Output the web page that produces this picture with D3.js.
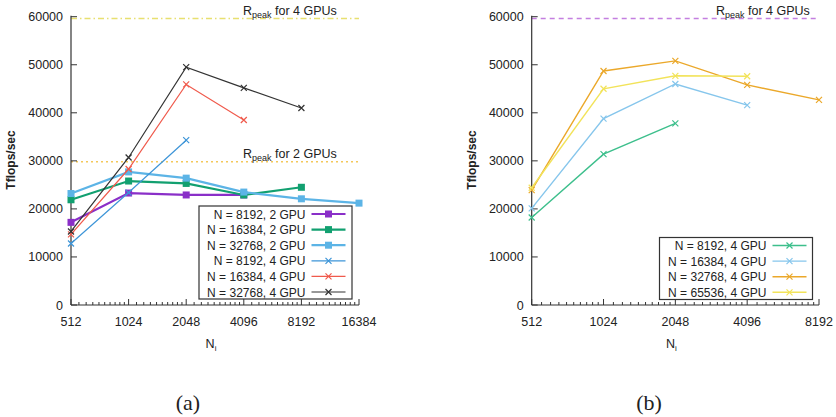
<!doctype html>
<html lang="en">
<head>
  <meta charset="utf-8">
  <script src="https://d3js.org/d3.v7.min.js"></script>
  <style>
    body { margin: 0; background: #fff; }
    text { font-family: "Liberation Sans", Arial, sans-serif; fill: #222; }
  </style>
</head>
<body>
  <script>
    // ---- data: panel (a) ----
    var nis = [512, 1024, 2048, 4096, 8192, 16384];
    var aTicks = [512, 1024, 2048, 4096, 8192, 16384];
    var a8192_2gpu  = [17200, 23300, 22900, 22900];
    var a16384_2gpu = [21900, 25800, 25300, 22900, 24500];
    var a32768_2gpu = [23200, 27700, 26400, 23500, 22100, 21200];
    var a8192_4gpu  = [12800, 23400, 34300];
    var a16384_4gpu = [14700, 28300, 45900, 38500];
    var a32768_4gpu = [15300, 30700, 49500, 45200, 41000];
    var aLabels = ["N = 8192, 2 GPU", "N = 16384, 2 GPU", "N = 32768, 2 GPU",
                   "N = 8192, 4 GPU", "N = 16384, 4 GPU", "N = 32768, 4 GPU"];

    // ---- data: panel (b) ----
    var bTicks = [512, 1024, 2048, 4096, 8192];
    var b8192_4gpu  = [18200, 31400, 37800];
    var b16384_4gpu = [20100, 38800, 46000, 41600];
    var b32768_4gpu = [23900, 48700, 50800, 45800, 42700];
    var b65536_4gpu = [24400, 45000, 47700, 47600];
    var bLabels = ["N = 8192, 4 GPU", "N = 16384, 4 GPU", "N = 32768, 4 GPU", "N = 65536, 4 GPU"];

    var yTicks = [0, 10000, 20000, 30000, 40000, 50000, 60000];
    var rpeak2 = 29800, rpeak4 = 59600;

    var svg = d3.select("body").append("svg")
        .attr("width", 836).attr("height", 417);

    function panel(opt) {
      var x = d3.scaleLog().base(2).domain(opt.xdom).range(opt.xr);
      var y = d3.scaleLinear().domain([0, 60000]).range([305, 16.7]);
      var g = svg.append("g");

      // reference lines
      opt.refs.forEach(function (r) {
        g.append("line")
          .attr("x1", x.range()[0]).attr("x2", x.range()[1])
          .attr("y1", y(r.v)).attr("y2", y(r.v))
          .style("stroke", r.color).style("stroke-width", 1.5)
          .style("stroke-dasharray", r.dash);
        var t = g.append("text").attr("x", r.lx).attr("y", y(r.v) - 4)
          .style("font-size", "12.5px");
        t.append("tspan").text("R");
        t.append("tspan").attr("dy", 3).style("font-size", "9px").text("peak");
        t.append("tspan").attr("dy", -3).text(" for " + r.n + " GPUs");
      });

      // axes
      g.append("line").attr("x1", x.range()[0]).attr("x2", x.range()[0])
        .attr("y1", y(60000) - 1).attr("y2", 305).style("stroke", "#333").style("stroke-width", 1.2);
      g.append("line").attr("x1", x.range()[0]).attr("x2", x.range()[1])
        .attr("y1", 305).attr("y2", 305).style("stroke", "#333").style("stroke-width", 1.2);

      yTicks.forEach(function (v) {
        g.append("line").attr("x1", x.range()[0]).attr("x2", x.range()[0] + 6)
          .attr("y1", y(v)).attr("y2", y(v)).style("stroke", "#333");
        g.append("text").attr("x", x.range()[0] - 8).attr("y", y(v) + 4.5)
          .attr("text-anchor", "end").style("font-size", "12.5px").text(v);
      });
      opt.xticks.forEach(function (v, i) {
        g.append("line").attr("x1", x(v)).attr("x2", x(v))
          .attr("y1", 305).attr("y2", 299).style("stroke", "#333");
        g.append("text").attr("x", x(v)).attr("y", 326)
          .attr("text-anchor", "middle").style("font-size", "12.5px").text(v);
        if (i < opt.xticks.length - 1) {
          for (var k = 1; k < 10; k++) {
            var m = v * (1 + k / 10);
            g.append("line").attr("x1", x(m)).attr("x2", x(m))
              .attr("y1", 305).attr("y2", 302).style("stroke", "#333");
          }
        }
      });

      // axis titles
      g.append("text")
        .attr("transform", "translate(" + (x.range()[0] - 56) + ",160) rotate(-90)")
        .attr("text-anchor", "middle").style("font-size", "12px").style("font-weight", "bold")
        .text("Tflops/sec");
      var xt = g.append("text").attr("x", (x.range()[0] + x.range()[1]) / 2 - 4).attr("y", 348)
        .attr("text-anchor", "middle").style("font-size", "12.5px");
      xt.append("tspan").text("N");
      xt.append("tspan").attr("dy", 3).style("font-size", "8px").text("i");

      g.append("text").attr("x", opt.cap[0]).attr("y", 410).attr("text-anchor", "middle")
        .style("font-family", "'Liberation Serif', 'DejaVu Serif', serif").style("font-size", "22px")
        .text(opt.caption);

      var line = d3.line().x(function (d, i) { return x(nis[i]); }).y(function (d) { return y(d); });

      // series
      opt.series.forEach(function (s) {
        g.append("path").datum(s.vals).attr("d", line)
          .style("fill", "none").style("stroke", s.color).style("stroke-width", s.w);
        s.vals.forEach(function (v, i) { marker(g, x(nis[i]), y(v), s); });
      });

      // legend
      var L = opt.legend;
      g.append("rect").attr("x", L.x).attr("y", L.y).attr("width", L.w).attr("height", L.h)
        .style("fill", "#fff").style("stroke", "#333").style("stroke-width", 1.2);
      opt.series.forEach(function (s, i) {
        var ry = L.y + 8 + i * L.dy;
        g.append("text").attr("x", L.tx).attr("y", ry + 4.5).attr("text-anchor", "end")
          .style("font-size", "12px").text(opt.labels[i]);
        g.append("line").attr("x1", L.tx + 6).attr("x2", L.tx + 40)
          .attr("y1", ry).attr("y2", ry).style("stroke", s.color).style("stroke-width", s.w);
        marker(g, L.tx + 23, ry, s);
      });
    }

    function marker(g, cx, cy, s) {
      if (s.sym === "sq") {
        g.append("rect").attr("x", cx - 3.5).attr("y", cy - 3.5).attr("width", 7).attr("height", 7)
          .style("fill", s.color);
      } else {
        var r = 3;
        g.append("path").attr("d", "M" + (cx - r) + "," + (cy - r) + "L" + (cx + r) + "," + (cy + r) +
            "M" + (cx - r) + "," + (cy + r) + "L" + (cx + r) + "," + (cy - r))
          .style("stroke", s.color).style("stroke-width", 1.2);
      }
    }

    panel({
      xdom: [512, 16384], xr: [71, 359], xticks: aTicks, caption: "(a)", cap: [188],
      refs: [
        { v: rpeak4, n: 4, color: "#e8e070", dash: "6,3,1.5,3", lx: 243 },
        { v: rpeak2, n: 2, color: "#f4c85a", dash: "2,3", lx: 243 }
      ],
      series: [
        { vals: a8192_2gpu,  color: "#8a2fc8", w: 2.2, sym: "sq" },
        { vals: a16384_2gpu, color: "#12a070", w: 2.2, sym: "sq" },
        { vals: a32768_2gpu, color: "#5cb4e6", w: 2.2, sym: "sq" },
        { vals: a8192_4gpu,  color: "#3d95d8", w: 1.2, sym: "x" },
        { vals: a16384_4gpu, color: "#f05a4c", w: 1.2, sym: "x" },
        { vals: a32768_4gpu, color: "#333333", w: 1.2, sym: "x" }
      ],
      labels: aLabels,
      legend: { x: 199, y: 206, w: 153, h: 93, tx: 305.5, dy: 15.6 }
    });

    panel({
      xdom: [512, 8192], xr: [531.7, 819], xticks: bTicks, caption: "(b)", cap: [649],
      refs: [
        { v: rpeak4, n: 4, color: "#c47fe0", dash: "5,4", lx: 716 }
      ],
      series: [
        { vals: b8192_4gpu,  color: "#3dbf8c", w: 1.4, sym: "x" },
        { vals: b16384_4gpu, color: "#86c6ec", w: 1.4, sym: "x" },
        { vals: b32768_4gpu, color: "#eba82a", w: 1.4, sym: "x" },
        { vals: b65536_4gpu, color: "#f2e35a", w: 1.4, sym: "x" }
      ],
      labels: bLabels,
      legend: { x: 659.5, y: 237.5, w: 153, h: 62, tx: 766.5, dy: 15.6 }
    });
  </script>
</body>
</html>
